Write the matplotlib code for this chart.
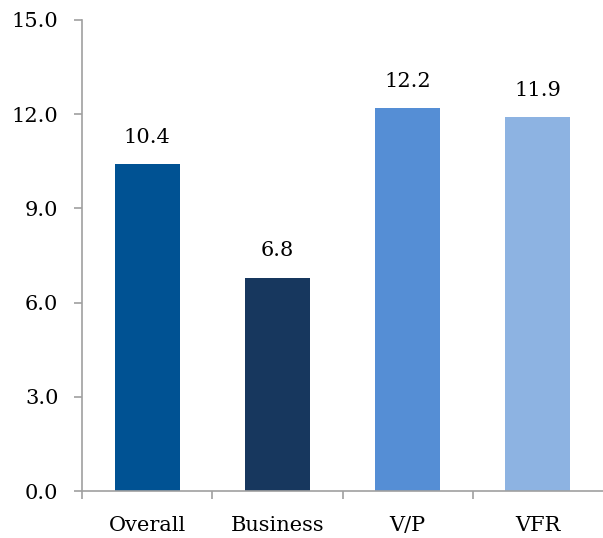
import matplotlib.pyplot as plt
from matplotlib.ticker import FixedLocator, FormatStrFormatter

categories = ["Overall", "Business", "V/P", "VFR"]
values = [10.4, 6.8, 12.2, 11.9]
colors = ["#005293", "#17375e", "#558ed5", "#8db3e2"]

plt.rcParams['font.family'] = 'DejaVu Serif'

fig = plt.figure(figsize=(6.03, 5.38), dpi=100)
ax = fig.add_axes([0.136, 0.087, 0.864, 0.876])

x = list(range(len(categories)))
bars = ax.bar(x, values, width=0.5, color=colors)

for b, v in zip(bars, values):
    ax.text(b.get_x() + b.get_width() / 2, v + 0.55, f"{v:.1f}",
            ha='center', va='bottom', fontsize=15)

ax.set_xlim(-0.5, len(categories) - 0.5)
ax.set_ylim(0, 15)
ax.set_yticks([0, 3, 6, 9, 12, 15])
ax.yaxis.set_major_formatter(FormatStrFormatter('%.1f'))
ax.set_xticks(x)
ax.set_xticklabels(categories)
ax.xaxis.set_minor_locator(FixedLocator([-0.5, 0.5, 1.5, 2.5]))

for s in ['top', 'right']:
    ax.spines[s].set_visible(False)
for s in ['left', 'bottom']:
    ax.spines[s].set_color('#a0a0a0')
    ax.spines[s].set_linewidth(1.2)

ax.tick_params(axis='y', length=6, width=1.2, color='#a0a0a0', labelsize=15, pad=11)
ax.tick_params(axis='x', which='major', length=0, labelsize=15, pad=18)
ax.tick_params(axis='x', which='minor', length=6, color='#a0a0a0', width=1.2)

fig.savefig('out.png', dpi=100)
